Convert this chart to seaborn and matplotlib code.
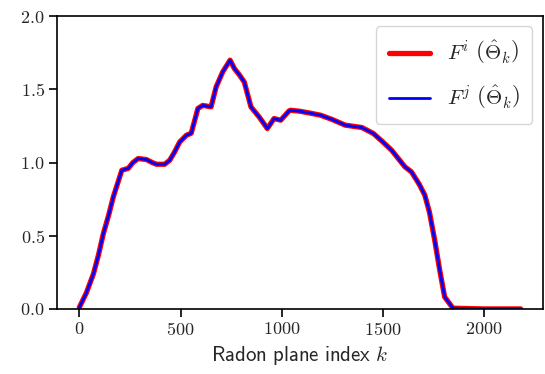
# import the libraries
import pandas as pd
import seaborn as sns
import matplotlib.pyplot as plt

# values
radon_index = [0, 35, 70, 95, 119, 145, 168, 190, 210, 242, 265, 291, 332, 360, 381,
               422, 447, 470, 496, 529, 553, 586, 610, 651, 676, 709, 745, 766, 790,
               815, 848, 889, 929, 962, 995, 1036, 1044, 1090, 1134, 1192, 1249, 1314,
               1396, 1453, 1500, 1543, 1609, 1641, 1680, 1707, 1730, 1756, 1780, 1805,
               1846, 2000, 2181]
f_value = [0.01, 0.11, 0.24, 0.37, 0.515, 0.64, 0.765, 0.86, 0.947, 0.96, 1.0, 1.027,
           1.02, 1.0, 0.988, 0.988, 1.016, 1.07, 1.14, 1.186, 1.20, 1.369, 1.39, 1.38,
           1.516, 1.62, 1.699, 1.642, 1.6, 1.55, 1.38, 1.31, 1.232, 1.30, 1.289, 1.352,
           1.357, 1.35, 1.339, 1.323, 1.294, 1.255, 1.239, 1.198, 1.14, 1.084, 0.97,
           0.936, 0.85, 0.777, 0.66, 0.469, 0.27, 0.082, 0.005, 0.0, 0.0]

df = pd.DataFrame({"k": radon_index, "F": f_value})

# style and fonts
sns.set_style("ticks")
plt.rcParams["font.family"] = "serif"
plt.rcParams["font.serif"] = ["cmr10"]
plt.rcParams["mathtext.fontset"] = "cm"
plt.rcParams["axes.formatter.use_mathtext"] = True
plt.rcParams["axes.unicode_minus"] = False

fig, ax = plt.subplots(figsize=(5.45, 3.74), dpi=100)

# both curves coincide, the thin blue one sits on top of the thick red one
sns.lineplot(data=df, x="k", y="F", color="red", linewidth=3.8,
             label=r"$F^i\ \left(\hat{\mathbf{\Theta}}_k\right)$", ax=ax)
sns.lineplot(data=df, x="k", y="F", color="blue", linewidth=2.0,
             label=r"$F^j\ \left(\hat{\mathbf{\Theta}}_k\right)$", ax=ax)

ax.set_ylim(0, 2)
ax.set_yticks([0, 0.5, 1.0, 1.5, 2.0])
ax.set_xticks([0, 500, 1000, 1500, 2000])
ax.set_xlabel(r"$\mathsf{Radon\ plane\ index}\ k$", fontsize=15)
ax.set_ylabel("")
ax.tick_params(labelsize=13, width=1.2, length=5.5, color="black")
for s in ax.spines.values():
    s.set_linewidth(1.2)
    s.set_color("black")

ax.legend(loc="upper right", fontsize=15, handlelength=2.0, labelspacing=0.85,
          borderaxespad=0.5, borderpad=0.6)

fig.subplots_adjust(left=0.105, right=0.996, top=0.957, bottom=0.174)
fig.savefig("out.png", dpi=100)
